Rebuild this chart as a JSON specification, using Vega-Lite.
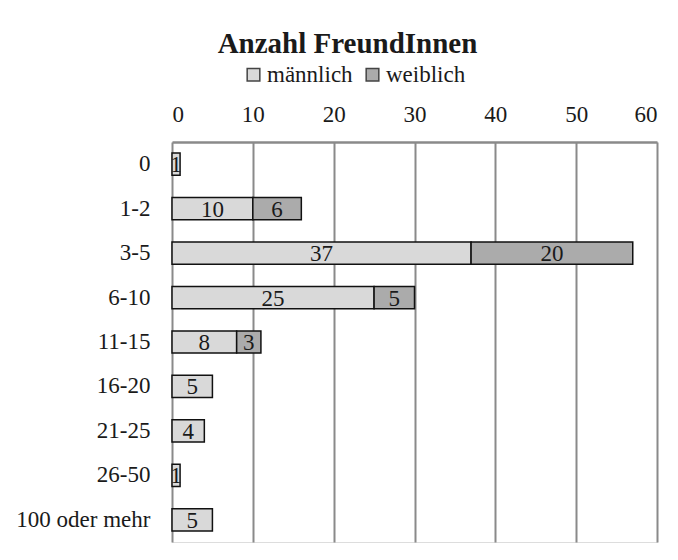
{
  "$schema": "https://vega.github.io/schema/vega-lite/v6.json",
  "autosize": {"type": "none"},
  "padding": {"left": 172, "top": 142, "right": 21, "bottom": 18},
  "width": 485,
  "height": 400,
  "background": "white",
  "config": {"font": "Times New Roman, Liberation Serif, DejaVu Serif, serif"},
  "title": {
    "text": "Anzahl FreundInnen",
    "font": "Times New Roman, Liberation Serif, DejaVu Serif, serif",
    "fontSize": 29,
    "fontWeight": "bold",
    "color": "#1a1a1a",
    "anchor": "middle",
    "dx": -67,
    "offset": 4
  },
  "data": {
    "values": [
      {"cat": "0", "sex": "männlich", "n": 1},
      {"cat": "1-2", "sex": "männlich", "n": 10},
      {"cat": "1-2", "sex": "weiblich", "n": 6},
      {"cat": "3-5", "sex": "männlich", "n": 37},
      {"cat": "3-5", "sex": "weiblich", "n": 20},
      {"cat": "6-10", "sex": "männlich", "n": 25},
      {"cat": "6-10", "sex": "weiblich", "n": 5},
      {"cat": "11-15", "sex": "männlich", "n": 8},
      {"cat": "11-15", "sex": "weiblich", "n": 3},
      {"cat": "16-20", "sex": "männlich", "n": 5},
      {"cat": "21-25", "sex": "männlich", "n": 4},
      {"cat": "26-50", "sex": "männlich", "n": 1},
      {"cat": "100 oder mehr", "sex": "männlich", "n": 5}
    ]
  },
  "transform": [
    {"stack": "n", "groupby": ["cat"], "sort": [{"field": "sex", "order": "ascending"}], "as": ["n0", "n1"]}
  ],
  "encoding": {
    "y": {
      "field": "cat",
      "type": "nominal",
      "sort": ["0", "1-2", "3-5", "6-10", "11-15", "16-20", "21-25", "26-50", "100 oder mehr"],
      "scale": {"paddingInner": 0.5, "paddingOuter": 0.25},
      "axis": {
        "title": null,
        "domain": false,
        "ticks": false,
        "grid": false,
        "labelPadding": 22,
        "labelFont": "Times New Roman, Liberation Serif, DejaVu Serif, serif",
        "labelFontSize": 23,
        "labelColor": "#1a1a1a"
      }
    }
  },
  "layer": [
    {
      "mark": {"type": "bar", "stroke": "#111111", "strokeWidth": 1.5},
      "encoding": {
        "x": {
          "field": "n0",
          "type": "quantitative",
          "scale": {"domain": [0, 60], "nice": false},
          "axis": {
            "orient": "top",
            "title": null,
            "values": [0, 10, 20, 30, 40, 50, 60],
            "ticks": false,
            "labelPadding": 16,
            "labelFont": "Times New Roman, Liberation Serif, DejaVu Serif, serif",
            "labelFontSize": 23,
            "labelColor": "#1a1a1a",
            "domainColor": "#8a8a8a",
            "domainWidth": 2.5,
            "gridColor": "#8a8a8a",
            "gridWidth": 2,
            "gridOpacity": 1
          }
        },
        "x2": {"field": "n1"},
        "fill": {
          "field": "sex",
          "type": "nominal",
          "scale": {"domain": ["männlich", "weiblich"], "range": ["#d9d9d9", "#ababab"]},
          "legend": {
            "title": null,
            "orient": "none",
            "direction": "horizontal",
            "legendX": 70,
            "legendY": -79,
            "symbolType": "square",
            "symbolSize": 160,
            "symbolStrokeColor": "#444444",
            "symbolStrokeWidth": 1.5,
            "labelFont": "Times New Roman, Liberation Serif, DejaVu Serif, serif",
            "labelFontSize": 23,
            "labelColor": "#1a1a1a",
            "labelOffset": 2,
            "columnPadding": 8
          }
        }
      }
    },
    {
      "transform": [
        {"fold": ["n0", "n1"], "as": ["edgeName", "edge"]},
        {"aggregate": [{"op": "mean", "field": "edge", "as": "mid"}], "groupby": ["cat", "sex", "n"]}
      ],
      "mark": {"type": "text", "font": "Times New Roman, Liberation Serif, DejaVu Serif, serif", "fontSize": 23, "color": "#1a1a1a", "align": "center", "baseline": "middle", "dy": 1},
      "encoding": {
        "x": {"field": "mid", "type": "quantitative"},
        "text": {"field": "n", "type": "quantitative"}
      }
    }
  ]
}
